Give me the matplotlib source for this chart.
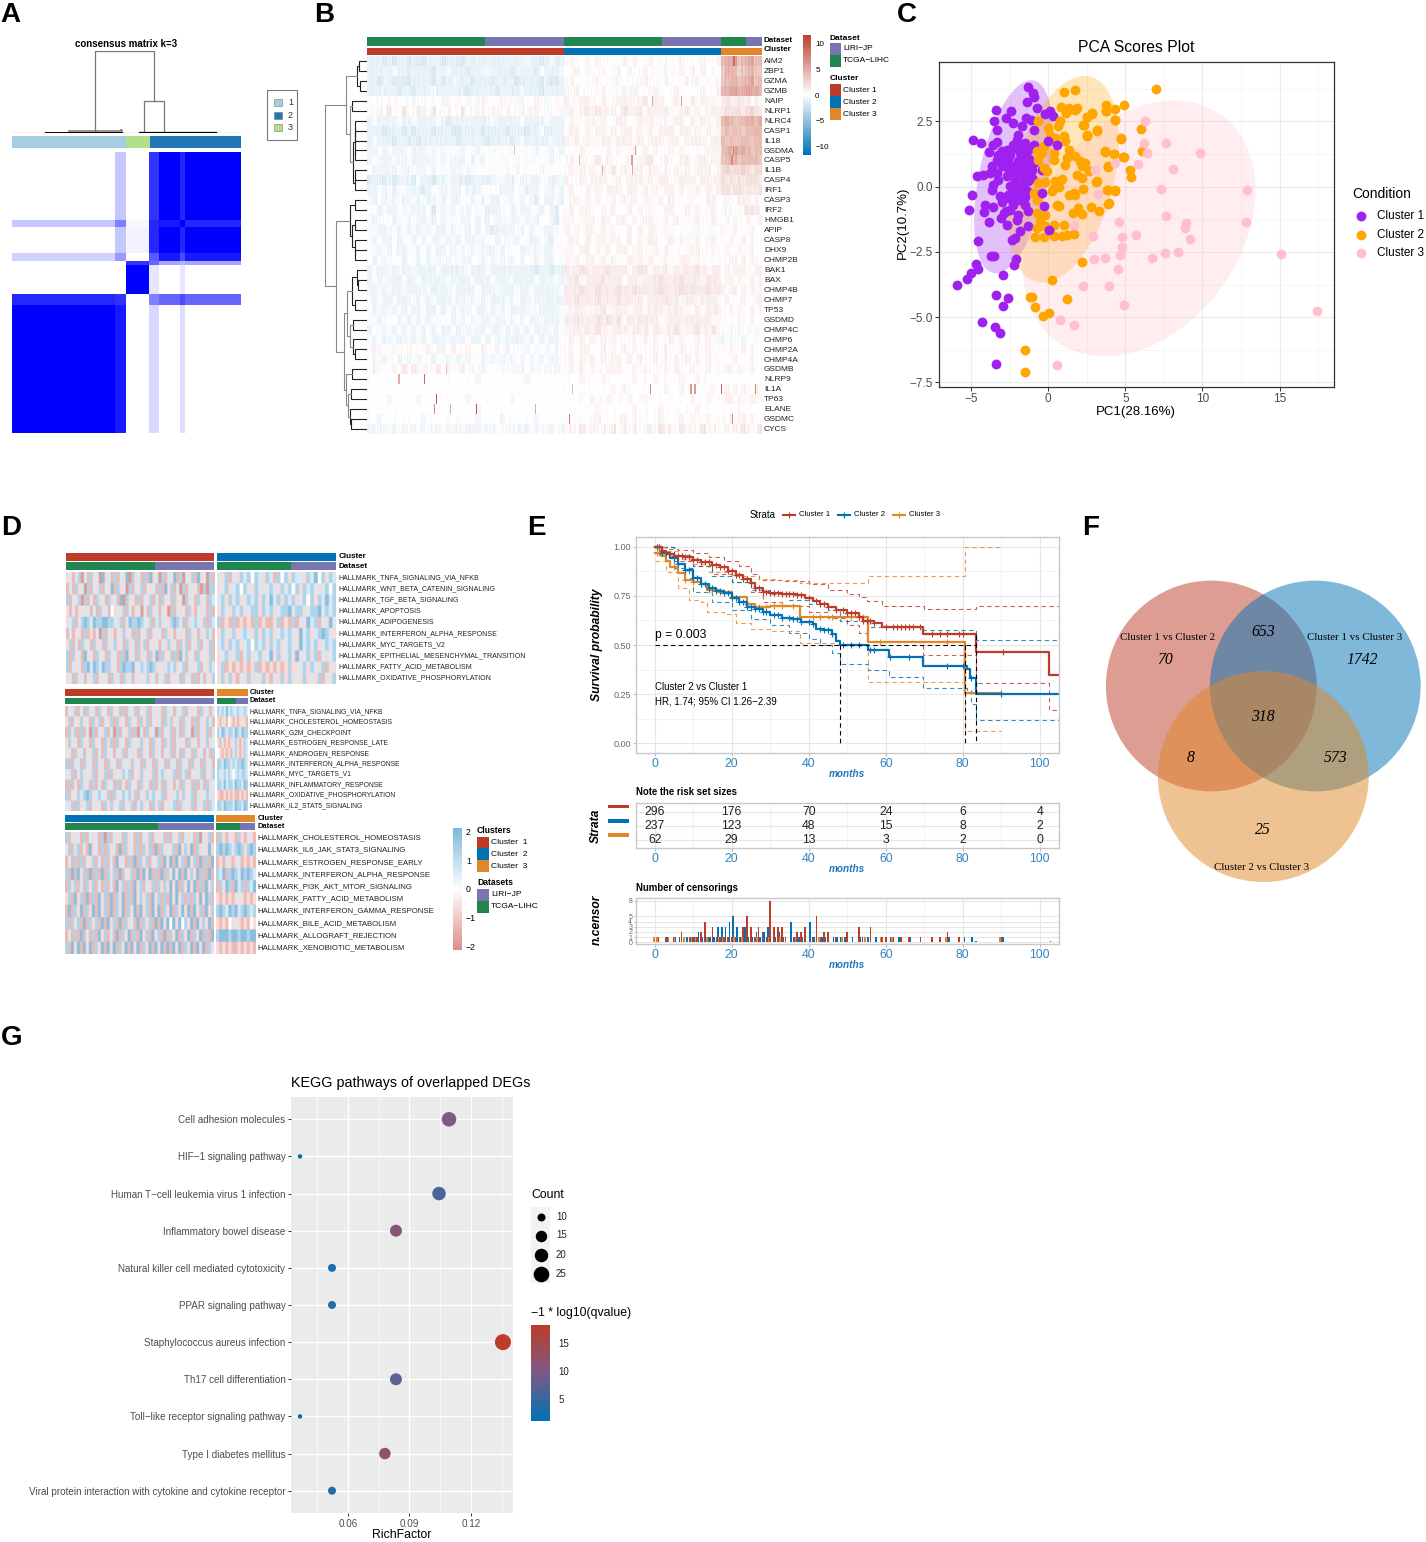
import numpy as np
import matplotlib
matplotlib.use("Agg")
import matplotlib.pyplot as plt
from matplotlib.colors import LinearSegmentedColormap as LSC
from matplotlib.patches import Circle, Rectangle, Polygon

plt.rcParams['font.family'] = ['Liberation Sans', 'DejaVu Sans']
W, H = 1426, 1542
fig = plt.figure(figsize=(W/100, H/100), dpi=100, facecolor='white')

RED, BLUE, ORANGE = '#BC3C29', '#0072B5', '#E18727'
TCGA, LIRI = '#20854E', '#7876B1'
GREY = '#4D4D4D'
CL_COL = {1: RED, 2: BLUE, 3: ORANGE}

# ---------------------------------------------------- shared sample sizes
SIZES = {1: (178, 118), 2: (148, 89), 3: (38, 24)}   # TCGA, LIRI per cluster

# ---------------------------------------------------- A consensus matrix
A_COL_EDGES = [0, 268, 296, 357, 381, 437, 450, 595]
A_ROW_EDGES = [0, 145, 159, 214, 231, 239, 300, 323, 595]
A_VALUES = [
    [0.00, 0.22, 0.00, 0.80, 1.00, 0.85, 1.00],
    [0.22, 0.50, 0.03, 0.85, 0.90, 1.00, 0.85],
    [0.00, 0.22, 0.05, 0.85, 1.00, 0.85, 1.00],
    [0.18, 0.40, 0.00, 0.65, 0.90, 0.70, 0.90],
    [0.00, 0.00, 0.80, 0.60, 0.35, 0.30, 0.35],
    [0.00, 0.00, 1.00, 0.10, 0.00, 0.10, 0.00],
    [0.85, 0.80, 0.00, 0.50, 0.60, 0.70, 0.60],
    [1.00, 0.90, 0.00, 0.15, 0.00, 0.13, 0.00],
]
A_DENDRO_ROOT = (215, 368, 1.0)
A_DENDRO_SUB = (343, 394, 0.39)
A_LEAF_H = (0.03, 0.01)
A_LABELS = ['1', '2', '3']
A_COLORS = ['#A6CEE3', '#1F78B4', '#B2DF8A']
A_ORDER = [(296, 0), (62, 2), (237, 1)]

# ---------------------------------------------------- B heatmap
B_GENES = ['AIM2','ZBP1','GZMA','GZMB','NAIP','NLRP1','NLRC4','CASP1','IL18','GSDMA','CASP5','IL1B','CASP4',
           'IRF1','CASP3','IRF2','HMGB1','APIP','CASP8','DHX9','CHMP2B','BAK1','BAX','CHMP4B','CHMP7','TP53',
           'GSDMD','CHMP4C','CHMP6','CHMP2A','CHMP4A','GSDMB','NLRP9','IL1A','TP63','ELANE','GSDMC','CYCS']
B_ROWS = [
 ('2221212212112221221122222222222232212322','343343433334343343323343334334','7889678967'),
 ('2222232212222122322212223222212222132223','334343343343233433343343434333','6887567866'),
 ('2212212112222121232221222122221222212112','343333433243334433343334243334','6778678967'),
 ('2222221221222322222212222212222322212222','434333343334243344333433334334','7789789887'),
 ('3323433232343332433343243334334233432343','433443343344434534433433434433','4544544343'),
 ('3343533533523533433533343423433432432332','343444543435445344443344343344','4545545654'),
 ('2322223223222232122222222322222322223222','343344343344334443343443434434','7876678878'),
 ('2221222121222122211222212222122212232222','344343443434434343444344343434','6767667787'),
 ('2322212212122222221222221222212322222322','434343344344434344434434444344','7676677677'),
 ('2232322232223232333233233434333333233232','333433334343343434334343333444','6889887667'),
 ('2322232232222232322232323333334333333233','343433534333434453343344344344','6788677776'),
 ('3222223223223233322323333433434333343333','343434343534344344343434344434','5655565455'),
 ('1221212221322122322212222233223232233223','433434443343444343443344434444','5454545554'),
 ('2232323322212332322322233432223322233232','343343434443443434344343343434','5545544445'),
 ('3232323223232232322332323223323232132232','344343433434243433434333333443','3433444343'),
 ('3323223232223132323323332223323223323213','343443343433434333344334343343','3323245553'),
 ('3233323323223232333223232323322323233213','443344344344343443343433343343','3434334334'),
 ('3322332323232322323323232122223232332233','434344343433434344343333323333','4334333433'),
 ('3232232332323223232322323323332332232133','344343443443434344334343343343','3343343433'),
 ('3323232233232322323232322232333223232233','343443434344344334343333443343','3433433433'),
 ('3232333233232323233223323232323233232233','434344343433444343343344343333','3344343433'),
 ('2322323223222232222232223222222222122122','444544445444345434443444454344','3434443344'),
 ('2323222322322222322223222322232222322232','445344454443443444544454443544','3443433434'),
 ('2232322322223222232222322232223223222223','444544544454454444544454544544','4344343434'),
 ('3232232223232322232232323222323223222222','445444544454444344454434434443','3433343344'),
 ('3232323232232232323223223232322223322223','344434453444344344434443343444','3343433434'),
 ('3323332323232333323232322322323232232223','445444545453444444334444444433','3333433433'),
 ('2332323232323232232323223223232323222323','344444543444344434434543454353','3343234323'),
 ('3232232232323222322232232323222232323223','343434343433343434334343343432','2323323333'),
 ('3423343343334342343343343323433323332323','343443343434343334343343343433','3343343433'),
 ('3232332323233233232323323232323232323223','343434343443434334343434343433','3334333433'),
 ('3433343535343353433532343332332432334323','343434334443343433343433433433','3443433433'),
 ('3333333333333333333333233333333323333333','333433343333343334333343343333','3333333333'),
 ('3333333333333333333333333333333333333333','333333333434333333343343333343','3434343343'),
 ('3333433333433333333343333333343333333333','333334334333433433333333433433','3443433443'),
 ('3333333333333333333333233333333333333333','333333433333343333433333343333','3333433333'),
 ('3323333333323333333333233332333333233333','333334433334343333433343433433','3343443433'),
 ('2422323242323423242325232234232323243232','343534243534343243534353435343','3434354335'),
]
B_SPIKES = [(32,47,5),(32,86,9),(34,104,10),(35,101,7),(35,164,10),(35,125,5),(35,253,5),(36,304,8),(36,550,7),
            (33,426,7),(33,487,6),(33,493,6),(33,533,9),(33,584,7),(33,309,4),(4,429,5),(4,473,6),(9,221,4),
            (9,403,6),(9,551,8),(10,319,5),(10,398,6),(10,549,7),(11,354,5),(11,399,5),(0,552,9),(31,119,4)]
B_TREE = (1.0,
  (.50,
    (.25,(.2,0,1),(.18,2,3)),
    (.42,(.36,4,5),(.33,(.30,(.30,6,(.28,7,8)),(.3,9,10)),(.3,(.3,11,12),13)))),
  (.74,
    (.40,(.28,14,15),(.36,(.30,16,17),(.3,18,(.28,19,20)))),
    (.55,
      (.47,(.36,(.25,21,(.22,22,23)),(.3,24,25)),(.42,(.33,26,27),(.33,28,(.3,29,30)))),
      (.5,(.36,31,32),(.46,(.38,33,34),(.4,35,(.38,36,37)))))))

# ---------------------------------------------------- C PCA
P1 = [(-3.40,2.95),(-2.40,2.89),(-3.51,2.50),(-2.75,2.63),(-2.25,2.44),(-1.43,2.63),(-1.13,2.57),(-1.71,2.31),(-3.33,2.18),
 (-.91,2.16),(-.19,2.80),(.28,2.72),(-4.85,1.78),(-4.35,1.67),(-3.33,1.70),(-3.61,1.61),(-1.93,1.99),(-2.03,1.80),(-2.25,1.61),
 (-.89,1.61),(-3.83,1.32),(-2.68,1.42),(-3.01,1.35),(-3.23,1.23),(-2.14,1.48),(-1.49,1.67),(-1.28,1.42),(-1.82,1.29),(-3.33,1.03),
 (-2.58,.97),(-1.60,1.03),(-.95,.91),(-3.66,.78),(-3.01,.78),(-2.58,.72),(-1.82,.72),(-.37,.65),(-4.63,.42),(-4.20,.46),(-3.77,.52),
 (-3.33,.52),(-2.68,.40),(-2.03,.46),(-1.39,.59),(-1.06,.33),(-1.49,.20),(-3.23,.27),(-3.55,.08),(-3.66,-.11),(-1.82,-.05),(-2.47,.01),
 (-2.14,-.18),(-1.39,-.18),(-4.96,-.31),(-3.12,-.34),(-2.58,-.31),(-1.93,-.24),(-3.01,-.60),(-2.79,-.43),(-4.09,-.69),(-3.61,-.78),
 (-2.25,-.69),(-1.49,-.69),(-5.13,-.88),(-4.13,-.98),(-2.84,-1.01),(-2.47,-.88),(-1.28,-.95),(-1.93,-1.07),(-3.05,-1.20),(-2.03,-1.26),
 (-3.83,-1.37),(-2.68,-1.48),(-1.32,-1.49),(-1.82,-1.71),(-2.14,-1.97),(-2.36,-2.03),(-4.52,-2.09),(-2.14,.78),(-1.71,.40),(-2.14,.20),
 (-1.28,.78),(-1.60,1.29),(-2.47,1.23),(-2.90,1.10),(-1.28,.20),(-1.71,-.31),(-2.36,-.5),(-1.31,3.83),(-.98,3.58),(-.89,3.45),(-1.40,3.24),
 (-.71,3.0),(.11,2.9),(-3.71,-2.66),(-3.53,-2.64),(-4.67,-2.98),(-2.11,-2.78),(-2.22,-3.01),(-4.56,-3.15),(-5,-3.32),(-5.24,-3.52),
 (-5.93,-3.77),(-2.93,-3.40),(-3.38,-4.14),(-2.62,-4.27),(-2.91,-4.58),(-4.29,-5.2),(-3.42,-5.39),(-3.11,-5.59),(-3.4,-6.81),
 (-1.7,1.6),(-1.5,1.2),(-1.4,.95),(-1.7,.6),(-1.6,.1),(-1.5,-.4),(-2.4,.55),(-1.95,1.0),(-1.05,.65),(-1.25,1.05),(-1.85,-.5),(-2.75,-.95)]
P1_TOP = [(.02,1.74),(.56,1.61),(-.37,-.24),(-.30,-.75),(.06,-1.65)]
P2 = [(1.21,2.89),(1.75,2.95),(2.84,2.82),(3.74,2.89),(4.31,2.57),(2.51,2.67),(2.23,2.38),(.78,2.50),(.63,2.34),(3.18,2.16),(2.51,1.97),
 (.02,2.25),(.13,1.99),(.45,1.86),(1.0,1.93),(-.63,2.50),(1.10,1.74),(4.72,1.86),(-.30,1.55),(-.74,1.35),(-.41,1.29),(.35,1.29),(1.32,1.42),
 (3.66,1.35),(4.29,1.25),(4.85,1.14),(-.63,1.03),(1.21,1.10),(1.75,1.16),(2.08,.97),(2.40,.91),(.35,1.03),(3.87,.78),(1.10,.84),(2.19,.78),
 (2.62,.59),(-.30,.72),(-.09,.59),(1.86,.46),(2.19,.33),(.89,.29),(.45,.20),(3.16,.20),(-.63,.14),(-.19,.17),(.35,-.05),(.67,-.01),(2.23,-.09),
 (3.87,-.11),(4.35,-.14),(-.95,-.24),(.24,-.18),(1.32,-.31),(1.65,-.24),(1.75,-.31),(-.74,-.50),(.56,-.69),(.67,-.75),(3.92,-.63),(2.79,-.78),
 (3.31,-.92),(1.93,-.82),(1.58,-1.01),(2.19,-1.05),(-.74,-1.01),(-.19,-1.07),(-.52,-1.33),(-.74,-1.58),(-.19,-1.52),(.35,-1.48),(1.04,-1.48),
 (-.84,-1.94),(-.30,-1.93),(.35,-1.88),(.89,-1.88),(1.21,-1.84),(1.67,-1.81),(1.0,3.61),(1.71,3.69),(6.96,3.75),(4.91,3.13),(3.73,3.13),(3.73,2.9),
 (4.36,2.96),(.84,3.04),(1.33,3.0),(1.84,3.0),(1.18,2.84),(2.87,2.78),(2.49,2.66),(4.31,2.55),(2.29,2.36),(3.18,2.13),(2.53,1.95),(6.0,2.21),
 (4.73,1.84),(3.67,1.33),(4.29,1.24),(4.91,1.12),(6.11,1.38),(5.33,.64),(5.4,.37),(3.89,.77),(3.13,.17),(3.84,-.14),(4.33,-.17),(3.91,-.66),
 (2.22,-2.9),(.22,-3.58),(-1.04,-4.21),(-1.2,-4.21),(-.87,-4.62),(1.2,-4.3),(.07,-4.83),(-.33,-4.94),(-1.49,-6.27),(-1.49,-7.1)]
P3 = [(6.29,2.53),(6.24,1.66),(6.4,1.3),(7.62,1.66),(9.84,1.3),(4.31,.92),(5.8,.87),(8.07,.66),(3.02,.64),(7.33,-.1),(12.89,-.13),(3.24,-.29),
 (7.62,-1.12),(12.8,-1.34),(8.96,-1.38),(8.89,-1.58),(9.18,-2.0),(4.6,-1.35),(1.69,-1.48),(2.91,-1.88),(4.8,-1.92),(5.69,-1.84),(4.8,-2.32),
 (4.67,-2.62),(15.07,-2.59),(7.56,-2.53),(8.4,-2.52),(6.73,-2.72),(3.67,-2.72),(2.98,-2.76),(4.51,-3.15),(2.24,-3.81),(3.96,-3.82),(4.89,-4.52),
 (17.42,-4.78),(.76,-5.12),(1.69,-5.3),(.56,-6.83)]
# ellipse: centre x, half-width x, centre y, half-height y, correlation
ELL = {'#A020F0': (-2.25,2.55,.38,3.70,.45), '#FFA500': (.99,3.59,.28,3.96,.38), '#FFC0CB': (5.9,7.54,-1.6,4.9,.30)}

# ---------------------------------------------------- D hallmark heatmaps
D1_LABELS = ['HALLMARK_TNFA_SIGNALING_VIA_NFKB','HALLMARK_WNT_BETA_CATENIN_SIGNALING','HALLMARK_TGF_BETA_SIGNALING','HALLMARK_APOPTOSIS',
 'HALLMARK_ADIPOGENESIS','HALLMARK_INTERFERON_ALPHA_RESPONSE','HALLMARK_MYC_TARGETS_V2','HALLMARK_EPITHELIAL_MESENCHYMAL_TRANSITION',
 'HALLMARK_FATTY_ACID_METABOLISM','HALLMARK_OXIDATIVE_PHOSPHORYLATION']
D1_L = ['35236152635173526253716352627351625372615362735162',
        '25263516253625372635162536253526273625162535216166',
        '62536162526352635271635262536252635263516352635265',
        '32523535252635243536252351526352531625352632535262',
        '35625676576677665362576676536256353676526356536265',
        '25235262325162532536352625362535263525352635253652',
        '36252635263526356352635263625352536352636253625362',
        '62635273526352635262735263526372635262736352635362',
        '62535267576576635267667356567635356563562535625365',
        '35263525362535263526352535363525362535263526252536']
D1_R = ['53625365646536526463655365746365',
        '35635646536535653656463656535646',
        '56365635656365756365635646365756',
        '36536563566365635667566356675656',
        '62326232326232236232625375625375',
        '36536356536365635656537563567653',
        '56365635646563656356537565635656',
        '35635625635635736356373563625356',
        '36232323236232323236335636536253',
        '36363253635363253636353635362536']
D2_LABELS = ['HALLMARK_TNFA_SIGNALING_VIA_NFKB','HALLMARK_CHOLESTEROL_HOMEOSTASIS','HALLMARK_G2M_CHECKPOINT','HALLMARK_ESTROGEN_RESPONSE_LATE',
 'HALLMARK_ANDROGEN_RESPONSE','HALLMARK_INTERFERON_ALPHA_RESPONSE','HALLMARK_MYC_TARGETS_V1','HALLMARK_INFLAMMATORY_RESPONSE',
 'HALLMARK_OXIDATIVE_PHOSPHORYLATION','HALLMARK_IL2_STAT5_SIGNALING']
D2_L = ['25362526352635263526253625362535263525362535263525',
        '36253635263625362635263526362535263635263526253652',
        '26362625162536251625362615263516253625263516253625',
        '36352635263526362635263536352635263625352635253635',
        '35263525362526352536253526352635253625263526352526',
        '62635263526352635263536352635263526352635263526352',
        '53625635362536263536562536353625635362636253562536',
        '26252635262526352625263526352625263525263526252635',
        '62536567635653626356563625365635625356363562535653',
        '53626356253526363562536256352636253562635362536265']
D2_R = ['65657565565565','32332432323332','65765665765766','32523235632365','43232325632365',
        '66576656566765','65565654565665','66575665766576','32232323223232','66576665766576']
D3_LABELS = ['HALLMARK_CHOLESTEROL_HOMEOSTASIS','HALLMARK_IL6_JAK_STAT3_SIGNALING','HALLMARK_ESTROGEN_RESPONSE_EARLY','HALLMARK_INTERFERON_ALPHA_RESPONSE',
 'HALLMARK_PI3K_AKT_MTOR_SIGNALING','HALLMARK_FATTY_ACID_METABOLISM','HALLMARK_INTERFERON_GAMMA_RESPONSE','HALLMARK_BILE_ACID_METABOLISM',
 'HALLMARK_ALLOGRAFT_REJECTION','HALLMARK_XENOBIOTIC_METABOLISM']
D3_L = ['62535262535261625352635262536253526253625352615362',
        '52636252735262635272635262636272635362736372635373',
        '25262625362526252735262726362536273727362736272627',
        '62727362726272636272536272737262726373727363726272',
        '26362526362526252736262736253626363737263737262736',
        '36273627262736272637262736362736262737362626373762',
        '27263726372736272637263727362737263726373727362736',
        '62636272636272736272635272636272737473746372736372',
        '25262725262736252726372627362736272637263726372627',
        '62737273726372737263727372637273727273726372737263']
D3_R = ['2632532632532','6767656763676','2325323523232','6572676576765','2637627562657',
        '3232323532323','6765767567656','3232435323243','6777677677677','3232322323232']

# ---------------------------------------------------- E survival
T1 = [0,2,3,5,8,10,12,15,17,19,21,23,25,26,28,30,33,37,39,41,43,45,47,50,53,54,57,59,69.7,83.3,102.4,104.9]
S1 = [1,.98,.965,.955,.95,.935,.925,.905,.895,.875,.855,.835,.815,.79,.77,.765,.76,.755,.74,.725,.71,.695,.68,.665,.645,.62,.61,.59,.555,.465,.345,.345]
T2 = [0,2,4,6,8,10,12,14,16,18,20,22,24,26,28,30,33,36,38,41,42,44,46,47,48,55.4,60.9,69.7,81,81.8,83.3,104.9]
S2 = [1,.97,.945,.915,.88,.84,.81,.79,.775,.765,.74,.72,.695,.685,.67,.655,.64,.63,.615,.605,.58,.575,.555,.52,.50,.472,.44,.395,.38,.33,.25,.25]
T3 = [0,2,3,4,6,8,10,12,13.5,17,20,24,26,30,37.7,55.3,80.5,90]
S3 = [.97,.955,.93,.895,.865,.83,.82,.81,.78,.77,.745,.71,.695,.70,.645,.514,.258,.258]
U1T = [0,3,6,10,14,18,22,25,27,33,40,45,50,53,55,59,70,83.3,104.9]
U1S = [1,.99,.985,.97,.95,.93,.90,.86,.83,.825,.81,.78,.76,.745,.725,.70,.684,.70,.70]
L1T = [0,5,10,15,20,25,28,33,40,45,50,53,55,69.7,83.3,102.4,104.9]
L1S = [1,.93,.90,.86,.82,.77,.72,.70,.67,.64,.60,.56,.52,.45,.305,.17,.17]
U2T = [0,5,10,15,20,25,30,35,40,45,48,55.4,69.7,83.3,104.9]
U2S = [1,.96,.90,.85,.82,.78,.76,.73,.71,.68,.62,.59,.575,.525,.525]
L2T = [0,5,10,15,20,25,30,35,40,43,46,48,55.4,60.9,69.7,81,82,83.3,104.9]
L2S = [1,.89,.77,.72,.68,.63,.60,.56,.53,.50,.46,.405,.375,.335,.28,.27,.20,.12,.12]
U3T = [0,3,6,10,14,20,27,32,37.7,55.3,80.5,90]
U3S = [1,.98,.94,.91,.87,.85,.835,.83,.815,.85,1.0,1.0]
L3T = [0,3,6,9,12,13.5,18,21,25,30,37.7,47,55.3,80.5,90]
L3S = [.93,.87,.79,.73,.72,.67,.66,.61,.58,.57,.51,.50,.31,.06,.06]
C1_MARKS = [1,2,4,5,6,7,8,9,10,11,12,13,14,15,16,17,18,19,20,21,22,23,24,25,26,27,28,29,30,31,32,33,34,35,36,37,38,40,42,43,44,45,47,49,50,51,52,53,54,55,56,57,60,62,63,64,65,66,67,69,72,74,76,79,80,90.5]
C2_MARKS = [.5,1,2,3,5,6,8,9,10,11,12,13,14,15,16,17,18,19,20,21,22,23,24,25,26,27,28,29,31,32,33,35,36,37,38,40,41,43,44,45,46,49,51,53,56,57,61,66,76,80,82,90]
C3_MARKS = [.5,1,1.5,5,8,10,12,14,15,17,18,20,24,27,29,31,33,36,41,43,46,51,53,54,58.5,76,90]
MEDIANS = [48, 80.5, 83.3]
RISK_T = [0,20,40,60,80,100]
RISK = [[296,176,70,24,6,4],[237,123,48,15,8,2],[62,29,13,3,2,0]]
CEN1_T = [1,3,5,7,9,10,11,12,13,14,15,16,17,18,19,20,21,22,23,24,25,26,27,28,29,30,31,32,33,34,36,37,38,39,41,42,43,44,45,47,50,53,54,56,59,60,62,64,66,69,72,74,76,79,90,102.8]
CEN1_N = [1,1,1,2,1,1,1,2,4,1,3,1,1,1,1,1,1,1,3,5,3,1,3,2,1,8,3,3,3,1,1,2,2,3,1,5,1,2,2,1,2,3,1,3,1,1,1,1,1,1,1,1,2,1,1,.3]
CEN2_T = [3,5,6,8,9,10,11,12,13,14,15,16,17,18,19,20,21,22,23,24,25,26,27,28,29,31,32,33,35,36,37,38,40,41,43,44,46,47,48,49,51,53,55,57,61,63,66,76,80,82,83,90]
CEN2_N = [1,1,1,1,1,1,2,1,1,1,1,3,3,3,4,5,3,1,3,1,1,2,1,2,3,1,2,1,4,1,1,1,4,1,1,1,1,1,1,1,1,1,1,1,1,1,1,1,1,1,.3,1]
CEN3_T = [.3,1,4,5.5,8,10,11,14,17,18,21,23,27,30,33,37,43,49,55,59,62,76,90]
CEN3_N = [1,1,1,1,1,1,1,1,1,1,1,1,1,1,1,1,1,1,1,1,1,1,1]

# ---------------------------------------------------- G KEGG
G_NAMES = ['Cell adhesion molecules','HIF\u22121 signaling pathway','Human T\u2212cell leukemia virus 1 infection','Inflammatory bowel disease',
 'Natural killer cell mediated cytotoxicity','PPAR signaling pathway','Staphylococcus aureus infection','Th17 cell differentiation',
 'Toll\u2212like receptor signaling pathway','Type I diabetes mellitus','Viral protein interaction with cytokine and cytokine receptor']
G_RICH = [.1093,.0366,.1044,.0834,.0522,.0522,.1356,.0834,.0366,.078,.0522]
G_COUNT = [21,7,20,16,10,10,26,16,7,15,10]
G_Q = [10,1.2,6,11,2.5,4,18,7.5,1.2,12,3.5]
G_SIZE_COUNT = [7,10,15,16,20,21,25,26]
G_SIZE_PX = [4.5,8,11.5,12,13.5,14.5,15.6,16]

# ====================================================================== helpers
def ax_px(l, t, r, b, **kw):
    return fig.add_axes([l/W, 1-b/H, (r-l)/W, (b-t)/H], **kw)

ov = fig.add_axes([0, 0, 1, 1], zorder=20)
ov.set_xlim(0, W); ov.set_ylim(H, 0); ov.axis('off'); ov.patch.set_alpha(0)

def T(x, y, s, size=7, color='black', ha='left', va='center', **kw):
    return ov.text(x, y, s, fontsize=size, color=color, ha=ha, va=va, **kw)

def swatch(x0, y0, x1, y1, c, **kw):
    ov.add_patch(Rectangle((x0, y0), x1-x0, y1-y0, facecolor=c, edgecolor='none', **kw))

def bar_axis(l, t, r, b, sizes, colors):
    a = ax_px(l, t, r, b)
    a.axis('off')
    left = 0
    for s, c in zip(sizes, colors):
        a.barh(0, s, left=left, height=1, color=c, linewidth=0)
        left += s
    a.set_xlim(0, left); a.set_ylim(-.5, .5)
    return a

def colorbar(l, t, r, b, vmin, vmax, cmap, ticks, lab=None, size=6, color='black', pad=3):
    a = ax_px(l, t, r, b)
    a.imshow(np.linspace(vmax, vmin, 256)[:, None], aspect='auto', cmap=cmap, vmin=vmin, vmax=vmax,
             extent=[0, 1, vmin, vmax])
    a.set_xticks([])
    a.yaxis.tick_right()
    a.set_yticks(ticks)
    a.set_yticklabels(lab if lab else [str(v).replace('-', '\u2212') for v in ticks], fontsize=size, color=color)
    a.tick_params(axis='y', length=0, pad=pad)
    for s in a.spines.values():
        s.set_visible(False)
    return a

for name, x, y in [('A',0,15),('B',314,15),('C',897,15),('D',1,528),('E',527,528),('F',1082,528),('G',1,1038)]:
    T(x, y, name, size=20, fontweight='bold')

# ====================================================================== A
a = ax_px(12, 51, 241, 133)
a.axis('off'); a.set_xlim(0, 595); a.set_ylim(0, 1)
rl, rr, rh = A_DENDRO_ROOT; sl, sr, sh = A_DENDRO_SUB
a.plot([rl, rl, rr, rr], [A_LEAF_H[0], rh, rh, sh], color='#777777', lw=.9)
a.plot([sl, sl, sr, sr], [A_LEAF_H[1], sh, sh, A_LEAF_H[1]], color='#777777', lw=.9)
a.plot([0, 595], [0, 0], color='black', lw=.8)
a.plot([85, 285], [.012, .012], color='black', lw=.7)
a.plot([148, 285, 285, 282], [.02, .02, .035, .035], color='#777777', lw=1.1)
a.plot([330, 530], [.012, .012], color='black', lw=.9)
T(126, 44, 'consensus matrix k=3', size=7, ha='center', fontweight='bold')
left = 0
a = ax_px(12, 136, 241, 148); a.axis('off')
for s, i in A_ORDER:
    a.barh(0, s, left=left, height=1, color=A_COLORS[i], linewidth=0)
    left += s
a.set_xlim(0, 595); a.set_ylim(-.5, .5)
a = ax_px(12, 152, 241, 433)
a.pcolormesh(A_COL_EDGES, A_ROW_EDGES, np.array(A_VALUES), cmap=LSC.from_list('w', ['white', '#0000FF']), vmin=0, vmax=1,
             edgecolors='none', linewidth=0)
a.set_ylim(A_ROW_EDGES[-1], 0); a.axis('off')
ov.add_patch(Rectangle((267, 90), 30, 50, facecolor='white', edgecolor='#777777', lw=.8))
for yy, lab, c in zip([102.5, 115, 127.5], A_LABELS, A_COLORS):
    ov.add_patch(Rectangle((274, yy-3.5), 7.5, 7, facecolor=c, edgecolor='#777777', lw=.4))
    T(288, yy, lab, size=6.5, color='#333333')

# ====================================================================== B
def row_samples(chars, n):
    d = np.array([int(c) for c in chars], float)
    return d[(np.arange(n)*len(d)/n).astype(int)]

def row_fine(chars, n):
    # the read digits give the level; a reordered reading of the same digits gives the fine column stripes
    d = np.array([int(c) for c in chars], float)
    return .55*d[(np.arange(n)*len(d)/n).astype(int)] + .45*d[(np.arange(n)*11) % len(d)]

n1, n2, n3 = sum(SIZES[1]), sum(SIZES[2]), sum(SIZES[3])
B_M = np.array([np.concatenate([row_fine(r[0], n1), row_fine(r[1], n2), row_fine(r[2], n3)]) for r in B_ROWS])
B_M = (B_M-3)*1.0
for r, s, v in B_SPIKES:
    B_M[r, s:s+2] = v
B_CMAP = LSC.from_list('b', [BLUE, 'white', RED])
a = ax_px(367, 56, 762, 434)
a.imshow(B_M, aspect='auto', cmap=B_CMAP, vmin=-11.65, vmax=11.65, interpolation='nearest')
a.axis('off')
bar_axis(367, 36.5, 762, 46, SIZES[1]+SIZES[2]+SIZES[3], [TCGA, LIRI]*3)
bar_axis(367, 47.5, 762, 55, [n1, n2, n3], [RED, BLUE, ORANGE])
T(764, 40.5, 'Dataset', size=5.8, fontweight='bold')
T(764, 49.5, 'Cluster', size=5.8, fontweight='bold')
for i, g in enumerate(B_GENES):
    T(764, 61.5+i*9.95, g, size=6, color='#222222')
d = ax_px(325, 56, 367, 434)
d.axis('off'); d.set_xlim(1.01, 0); d.set_ylim(37.5, -.5)
def draw_tree(node, depth=0):
    if not isinstance(node, tuple):
        return node, 0
    h, l, r = node
    yl, hl = draw_tree(l, depth+1); yr, hr = draw_tree(r, depth+1)
    c = '#888888' if depth < 2 or h > .4 else '#222222'
    d.plot([hl, h, h, hr], [yl, yl, yr, yr], color=c, lw=.8, solid_joinstyle='miter')
    return (yl+yr)/2, h
draw_tree(B_TREE)
colorbar(803, 35, 811, 155, -11.65, 11.65, B_CMAP, [10, 5, 0, -5, -10], size=5.8, pad=3)
T(830, 38, 'Dataset', size=6, fontweight='bold')
swatch(830, 43, 841, 55, LIRI); swatch(830, 55, 841, 67, TCGA)
T(843, 49, 'LIRI\u2212JP', size=6); T(843, 61, 'TCGA\u2212LIHC', size=6)
T(830, 78, 'Cluster', size=6, fontweight='bold')
for y0, c, lab in [(84, RED, 'Cluster 1'), (96, BLUE, 'Cluster 2'), (108, ORANGE, 'Cluster 3')]:
    swatch(830, y0, 841, y0+12, c); T(843, y0+6, lab, size=6)

# ====================================================================== C
a = ax_px(939, 61.7, 1333.5, 387.3)
a.set_xlim(-7.08, 18.5); a.set_ylim(-7.69, 4.79)
a.set_xticks([-5, 0, 5, 10, 15]); a.set_yticks([-7.5, -5, -2.5, 0, 2.5])
a.set_xticks([-2.5, 2.5, 7.5, 12.5, 17.5], minor=True); a.set_yticks([-6.25, -3.75, -1.25, 1.25, 3.75], minor=True)
a.grid(which='major', color='#EBEBEB', lw=.8); a.grid(which='minor', color='#F2F2F2', lw=.5)
a.tick_params(which='minor', length=0)
a.set_axisbelow(True)
a.set_yticklabels(['\u22127.5', '\u22125.0', '\u22122.5', '0.0', '2.5'])
a.set_xticklabels(['\u22125', '0', '5', '10', '15'])
a.tick_params(which='major', labelsize=8.5, labelcolor=GREY, color='#333333', length=2.7, width=.7, pad=1.5)
for s in a.spines.values():
    s.set_color('#333333'); s.set_linewidth(.9)
t = np.linspace(0, 2*np.pi, 200)
for c, (cx, rx, cy, ry, rho) in ELL.items():
    a.add_patch(Polygon(np.c_[cx+rx*np.cos(t), cy+ry*np.cos(t-np.arccos(rho))], closed=True, facecolor=c, alpha=.28, edgecolor='none'))
for pts, c in [(P1, '#A020F0'), (P2, '#FFA500'), (P1_TOP, '#A020F0'), (P3, '#FFC0CB')]:
    p = np.array(pts)
    a.scatter(p[:, 0], p[:, 1], s=50, c=c, linewidths=0, zorder=3)
T(1136, 47, 'PCA Scores Plot', size=11.3, ha='center')
T(1136, 412.5, 'PC1(28.16%)', size=9.5, ha='center')
T(903, 223, 'PC2(10.7%)', size=9.5, ha='center', rotation=90)
T(1352, 194, 'Condition', size=10)
for yy, c, lab in [(216, '#A020F0', 'Cluster 1'), (234.7, '#FFA500', 'Cluster 2'), (253, '#FFC0CB', 'Cluster 3')]:
    ov.scatter([1361], [yy], s=50, c=c, linewidths=0)
    T(1377, yy, lab, size=8.5)
ov.set_xlim(0, W); ov.set_ylim(H, 0)

# ====================================================================== D
D_CMAP = LSC.from_list('d', ['#DE8E86', 'white', '#7FB8DC'])
def d_block(l, t, r, b, rows):
    n = 300
    m = np.array([row_samples(x, n) for x in rows])
    m = np.repeat((m-4)/2*1.25, 10, axis=0)
    a = ax_px(l, t, r, b)
    a.imshow(m, aspect='auto', cmap=D_CMAP, vmin=-2.1, vmax=2.1, interpolation='bilinear')
    a.axis('off')

def d_panel(xl, xm, xm2, xr, y_cl, y_ds, y_h, left_c, right_c, rl, rr, labels, lab_x, lab_y, dy, head_size=5.8, lab_size=5.6):
    for (x0, x1, c, rows) in [(xl, xm, left_c, rl), (xm2, xr, right_c, rr)]:
        bar_axis(x0, y_cl[0], x1, y_cl[1], [1], [CL_COL[c]])
        bar_axis(x0, y_ds[0], x1, y_ds[1], SIZES[c], [TCGA, LIRI])
        d_block(x0, y_h[0], x1, y_h[1], rows)
    T(lab_x, sum(y_cl)/2, 'Cluster', size=head_size, fontweight='bold')
    T(lab_x, sum(y_ds)/2, 'Dataset', size=head_size, fontweight='bold')
    for i, s in enumerate(labels):
        T(lab_x, lab_y+i*dy, s, size=lab_size, color='#222222')

d_panel(66, 214.3, 217.3, 336, (553, 560.7), (562.3, 570), (572, 683.7), 1, 2, D1_L, D1_R, D1_LABELS, 338.7, 577.7, 11.13, lab_size=5.05)
d_panel(65, 214.3, 217, 248, (689.3, 696), (697.7, 704.3), (706, 811), 1, 3, D2_L, D2_R, D2_LABELS, 250, 711.5, 10.45, head_size=5.2, lab_size=4.85)
d_panel(65, 213.7, 216, 255.3, (815, 821.7), (823, 830), (832, 954.3), 2, 3, D3_L, D3_R, D3_LABELS, 257.3, 838, 12.2, head_size=5.4, lab_size=5.55)
colorbar(453, 828.3, 461.7, 949.7, -2.1, 2.1, D_CMAP, [2, 1, 0, -1, -2], size=6.3, pad=3)
T(477, 830.7, 'Clusters', size=6.2, fontweight='bold')
for y0, c, lab in [(836.7, RED, 'Cluster  1'), (848, BLUE, 'Cluster  2'), (860, ORANGE, 'Cluster  3')]:
    swatch(477, y0, 489, y0+11.8, c); T(491, y0+6, lab, size=6.1)
T(477, 882.7, 'Datasets', size=6.2, fontweight='bold')
swatch(477, 889, 489, 901, LIRI); swatch(477, 901, 489, 912.7, TCGA)
T(491, 895, 'LIRI\u2212JP', size=6.1); T(491, 907, 'TCGA\u2212LIHC', size=6.1)

# ====================================================================== E
def km_style(a):
    a.set_xlim(-4.93, 104.9)
    a.set_xticks(RISK_T)
    a.set_xticks([10, 30, 50, 70, 90], minor=True)
    a.grid(which='major', color='#E6E6E6', lw=.8); a.grid(which='minor', color='#F0F0F0', lw=.6)
    a.set_axisbelow(True)
    a.tick_params(which='minor', length=0)
    a.tick_params(axis='x', which='major', labelsize=8.8, labelcolor='#2E86C1', length=2, color='#BBBBBB', pad=1.5)
    for s in a.spines.values():
        s.set_color('#C8C8C8'); s.set_linewidth(1)

a = ax_px(635.7, 537, 1058.7, 753)
km_style(a)
a.set_ylim(-.05, 1.05)
a.set_yticks([0, .25, .5, .75, 1]); a.set_yticklabels(['0.00', '0.25', '0.50', '0.75', '1.00'])
a.set_yticks([.125, .375, .625, .875], minor=True)
a.tick_params(axis='y', which='major', labelsize=6.5, labelcolor='#666666', length=2, color='#BBBBBB', pad=1.5)
for tt, ss, c in [(U1T, U1S, RED), (L1T, L1S, RED), (U2T, U2S, BLUE), (L2T, L2S, BLUE), (U3T, U3S, ORANGE), (L3T, L3S, ORANGE)]:
    a.step(tt, ss, where='post', color=c, lw=.8, ls=(0, (4, 3)), alpha=.8)
def marks(tt, ss, mk):
    idx = np.searchsorted(tt, mk, side='right')-1
    return np.array(ss)[idx]
for tt, ss, mk, c in [(T3, S3, C3_MARKS, ORANGE), (T2, S2, C2_MARKS, BLUE), (T1, S1, C1_MARKS, RED)]:
    a.step(tt, ss, where='post', color=c, lw=1.6)
    a.plot(mk, marks(tt, ss, mk), ls='none', marker='+', ms=5, mew=.8, color=c)
a.plot([0, MEDIANS[2]], [.5, .5], color='black', lw=.8, ls=(0, (4, 3)))
a.plot([MEDIANS[0]]*2, [.5, 0], color='black', lw=.8, ls=(0, (4, 3)))
a.plot([MEDIANS[1]]*2, [.5, 0], color='black', lw=.8, ls=(0, (4, 3)))
a.plot([MEDIANS[2]]*2, [.55, 0], color='black', lw=.8, ls=(0, (4, 3)))
a.text(0, .55, 'p = 0.003', fontsize=8.7, va='center')
a.text(0, .285, 'Cluster 2 vs Cluster 1', fontsize=6.9, va='center')
a.text(0, .21, 'HR, 1.74; 95% CI 1.26\u22122.39', fontsize=7, va='center')
T(597, 645, 'Survival probability', size=8.7, ha='center', rotation=90, fontweight='bold', style='italic')
MB = '#1F78B4'
T(847, 774, 'months', size=7.2, color=MB, ha='center', fontweight='bold', style='italic')
T(750, 515, 'Strata', size=7)
for x0, c, lab in [(783, RED, 'Cluster 1'), (838, BLUE, 'Cluster 2'), (893, ORANGE, 'Cluster 3')]:
    ov.plot([x0, x0+12], [514.5, 514.5], color=c, lw=1.5)
    ov.plot([x0+6], [514.5], marker='+', ms=4.5, mew=.8, color=c)
    T(x0+16, 515, lab, size=5.6)

a = ax_px(635.7, 803, 1058.7, 848)
km_style(a)
a.set_ylim(2.54, -.61)
a.set_yticks([0, 1, 2]); a.set_yticklabels([])
a.tick_params(axis='y', length=0)
for i, row in enumerate(RISK):
    for tt, v in zip(RISK_T, row):
        a.text(tt, i, str(v), fontsize=8.8, ha='center', va='center', color='#222222')
T(636, 792, 'Note the risk set sizes', size=6.9, fontweight='bold')
T(847, 869, 'months', size=7.2, color=MB, ha='center', fontweight='bold', style='italic')
T(596, 826, 'Strata', size=8.7, ha='center', rotation=90, fontweight='bold', style='italic')
for y0, c in [(806.5, RED), (821, BLUE), (835, ORANGE)]:
    swatch(608, y0-1.7, 629, y0+1.7, c)

a = ax_px(635.7, 898, 1058.7, 944)
km_style(a)
a.set_ylim(-.33, 8.58)
a.set_yticks([0, 1, 2, 3, 4, 5, 8])
a.tick_params(axis='y', which='major', labelsize=5, labelcolor='#666666', length=1.5, color='#BBBBBB', pad=1)
for tt, nn, c, off in [(CEN1_T, CEN1_N, RED, 0), (CEN2_T, CEN2_N, BLUE, .4), (CEN3_T, CEN3_N, ORANGE, -.4)]:
    a.bar(np.array(tt)+off, nn, width=.42, color=c, linewidth=0)
T(636, 888, 'Number of censorings', size=6.9, fontweight='bold')
T(847, 965, 'months', size=7.2, color=MB, ha='center', fontweight='bold', style='italic')
T(597, 920, 'n.censor', size=8.7, ha='center', rotation=90, fontweight='bold', style='italic')

# ====================================================================== F
for c, xy in [(RED, (1211.3, 686)), (BLUE, (1315.3, 686)), (ORANGE, (1263.3, 776.6))]:
    ov.add_patch(Circle(xy, 105.4, facecolor=c, alpha=.5, edgecolor='none'))
ser = 'Liberation Serif'
for x, y, s in [(1168, 637.5, 'Cluster 1 vs Cluster 2'), (1355, 637.5, 'Cluster 1 vs Cluster 3'), (1262, 867, 'Cluster 2 vs Cluster 3')]:
    T(x, y, s, size=7.8, ha='center', family=ser)
for x, y, s in [(1165, 660, '70'), (1263, 632, '653'), (1362, 660, '1742'), (1263, 717, '318'), (1191, 758, '8'), (1336, 758, '573'), (1263, 830, '25')]:
    T(x, y, s, size=11.3, ha='center', family=ser, style='italic')

# ====================================================================== G
G_CMAP = LSC.from_list('g', ['#0072B5', '#7D5B86', '#BC3C29'])
a = ax_px(291, 1097, 513, 1513)
a.set_facecolor('#EBEBEB')
a.set_xlim(.0322, .1405); a.set_ylim(-.6, 10.6)
ypos = np.arange(10, -1, -1)
a.set_yticks(ypos); a.set_yticklabels(G_NAMES)
a.set_xticks([.06, .09, .12]); a.set_xticklabels(['0.06', '0.09', '0.12'])
a.set_xticks([.045, .075, .105, .135], minor=True)
a.grid(which='major', color='white', lw=1); a.grid(which='minor', axis='x', color='white', lw=.5)
a.set_axisbelow(True)
a.tick_params(which='minor', length=0)
a.tick_params(axis='y', which='major', labelsize=7.15, labelcolor=GREY, color='#333333', length=2.5, width=.7, pad=1.5)
a.tick_params(axis='x', which='major', labelsize=7.15, labelcolor=GREY, color='#333333', length=2.5, width=.7, pad=1.5)
for s in a.spines.values():
    s.set_visible(False)
def sz(count):
    px = np.interp(count, G_SIZE_COUNT, G_SIZE_PX)
    return (px*.72)**2
a.scatter(G_RICH, ypos, s=sz(np.array(G_COUNT)), c=G_Q, cmap=G_CMAP, vmin=1.07, vmax=18.2, linewidths=0, zorder=3)
T(291, 1083, 'KEGG pathways of overlapped DEGs', size=10.3)
T(402, 1535, 'RichFactor', size=8.8, ha='center')
T(531, 1195, 'Count', size=8.8)
swatch(531, 1207, 550, 1283, '#F2F2F2')
for yy, cnt in zip([1216.5, 1235.5, 1255, 1274], [10, 15, 20, 25]):
    ov.scatter([540.5], [yy], s=sz(cnt), c='black', linewidths=0, zorder=5)
    T(556, yy, str(cnt), size=7, color='#222222')
ov.set_xlim(0, W); ov.set_ylim(H, 0)
T(531, 1313, '\u22121 * log10(qvalue)', size=8.8)
colorbar(531, 1325, 550, 1421, 1.07, 18.2, G_CMAP, [15, 10, 5], size=7, color='#222222', pad=6)

fig.savefig('out.png', dpi=100, facecolor='white')
